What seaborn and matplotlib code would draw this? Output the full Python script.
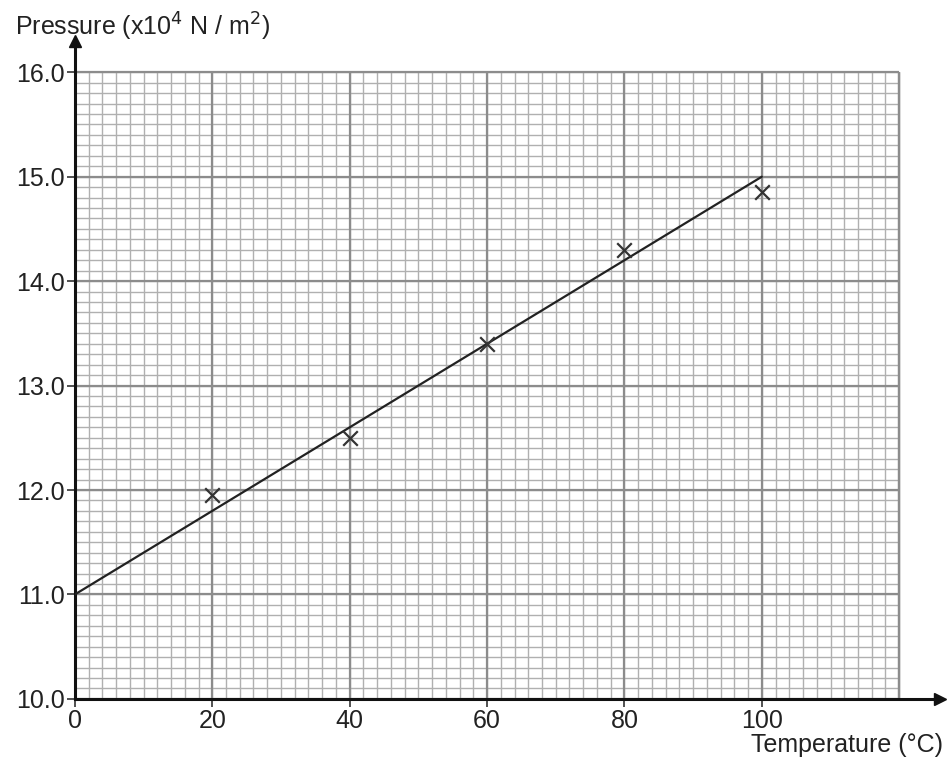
import numpy as np
import pandas as pd
import seaborn as sns
import matplotlib.pyplot as plt

# dados
temperatura = [20, 40, 60, 80, 100]
pressao = [11.95, 12.5, 13.4, 14.3, 14.85]
reta_x = [0, 100]
reta_y = [11.0, 15.0]
xticks = [0, 20, 40, 60, 80, 100]
yticks = [10.0, 11.0, 12.0, 13.0, 14.0, 15.0, 16.0]

sns.set_style('white')
plt.rcParams['font.family'] = ['Liberation Sans', 'DejaVu Sans']

fig = plt.figure(figsize=(9.48, 7.58), dpi=100)
ax = fig.add_axes([0.079, 0.078, 0.913, 0.868])
ax.set_xlim(0, 126)
ax.set_ylim(10, 16.3)

#papel milimetrado
ax.vlines(np.arange(0, 121, 2), 10, 16, color='#b0b0b0', lw=1.0, zorder=1)
ax.hlines(np.arange(10, 16.01, 0.1), 0, 120, color='#b0b0b0', lw=1.0, zorder=1)
ax.vlines(np.arange(0, 121, 20), 10, 16, color='#8c8c8c', lw=1.6, zorder=1)
ax.hlines(np.arange(10, 16.01, 1.0), 0, 120, color='#8c8c8c', lw=1.6, zorder=1)
ax.vlines([120], 10, 16, color='#8c8c8c', lw=1.6, zorder=1)

df = pd.DataFrame({'Temperatura': temperatura, 'Pressao': pressao})
df_reta = pd.DataFrame({'x': reta_x, 'y': reta_y})
sns.lineplot(data=df_reta, x='x', y='y', color='#222222', lw=1.6, ax=ax, zorder=3)
sns.scatterplot(data=df, x='Temperatura', y='Pressao', marker='x', s=110,
                color='#333333', linewidth=1.6, ax=ax, zorder=4)

#eixos com setas
for s in ['top', 'right']:
    ax.spines[s].set_visible(False)
ax.spines['left'].set_linewidth(2.2)
ax.spines['bottom'].set_linewidth(2.2)
ax.spines['left'].set_color('#111111')
ax.spines['bottom'].set_color('#111111')
ax.plot(0, 16.3, marker='^', ms=9, color='#111111', clip_on=False, zorder=5)
ax.plot(126, 10, marker='>', ms=9, color='#111111', clip_on=False, zorder=5)

ax.set_xticks(xticks)
ax.set_xticklabels([str(t) for t in xticks])
ax.set_yticks(yticks)
ax.set_yticklabels([f'{t:.1f}' for t in yticks])
ax.tick_params(axis='both', direction='out', length=6, width=1.2, color='#333333',
               labelsize=18, labelcolor='#222222', left=True, bottom=True, pad=1)
ax.set_xlabel('')
ax.set_ylabel('')

fig.text(0.016, 0.965, 'Pressure (x10$^4$ N / m$^2$)', fontsize=18, color='#222222',
         ha='left', va='center')
fig.text(0.995, 0.017, 'Temperature (°C)', fontsize=18, color='#222222',
         ha='right', va='center')

fig.savefig('out.png', dpi=100)
